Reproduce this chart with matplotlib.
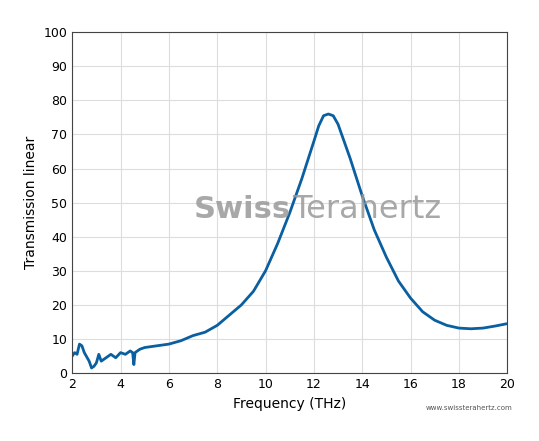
import matplotlib
matplotlib.use("Agg")
import matplotlib.pyplot as plt
import numpy as np

freq = [2.0,2.1,2.2,2.3,2.4,2.5,2.7,2.8,2.9,3.0,3.1,3.2,3.4,3.6,3.8,4.0,4.2,4.4,4.5,4.55,4.6,4.8,5.0,5.5,6.0,6.5,7.0,7.5,8.0,8.5,9.0,9.5,10.0,10.5,11.0,11.5,12.0,12.2,12.4,12.6,12.8,13.0,13.5,14.0,14.5,15.0,15.5,16.0,16.5,17.0,17.5,18.0,18.5,19.0,19.5,20.0]
trans = [5,6,5.5,8.5,8,6,3.5,1.5,2,3,5.5,3.5,4.5,5.5,4.5,6,5.5,6.5,6,2.5,6,7,7.5,8,8.5,9.5,11,12,14,17,20,24,30,38,47,57,68,72.5,75.5,76,75.5,73,63,52,42,34,27,22,18,15.5,14,13.2,13,13.2,13.8,14.5]

fig = plt.figure(figsize=(5.39,4.41), dpi=100)
ax = fig.add_axes([0.134,0.154,0.807,0.773])
ax.plot(freq, trans, color='#0a5fa0', lw=2.0)
ax.set_xlim(2,20); ax.set_ylim(0,100)
ax.set_xticks(range(2,21,2)); ax.set_yticks(range(0,101,10))
ax.grid(True, color='#dddddd', lw=0.8)
ax.set_axisbelow(True)
for s in ax.spines.values():
    s.set_color('#444444'); s.set_linewidth(0.8)
ax.tick_params(labelsize=9, length=0)
ax.set_xlabel('Frequency (THz)', fontsize=10)
ax.set_ylabel('Transmission linear', fontsize=10)
ax.text(0.28,0.48,'Swiss', transform=ax.transAxes, fontsize=22, weight='bold', color='#999999', alpha=0.85, va='center')
ax.text(0.505,0.48,'Terahertz', transform=ax.transAxes, fontsize=23, color='#999999', alpha=0.85, va='center')
fig.text(0.79,0.07,'www.swissterahertz.com', fontsize=5, color='#555555')
fig.savefig('out.png', dpi=100)
